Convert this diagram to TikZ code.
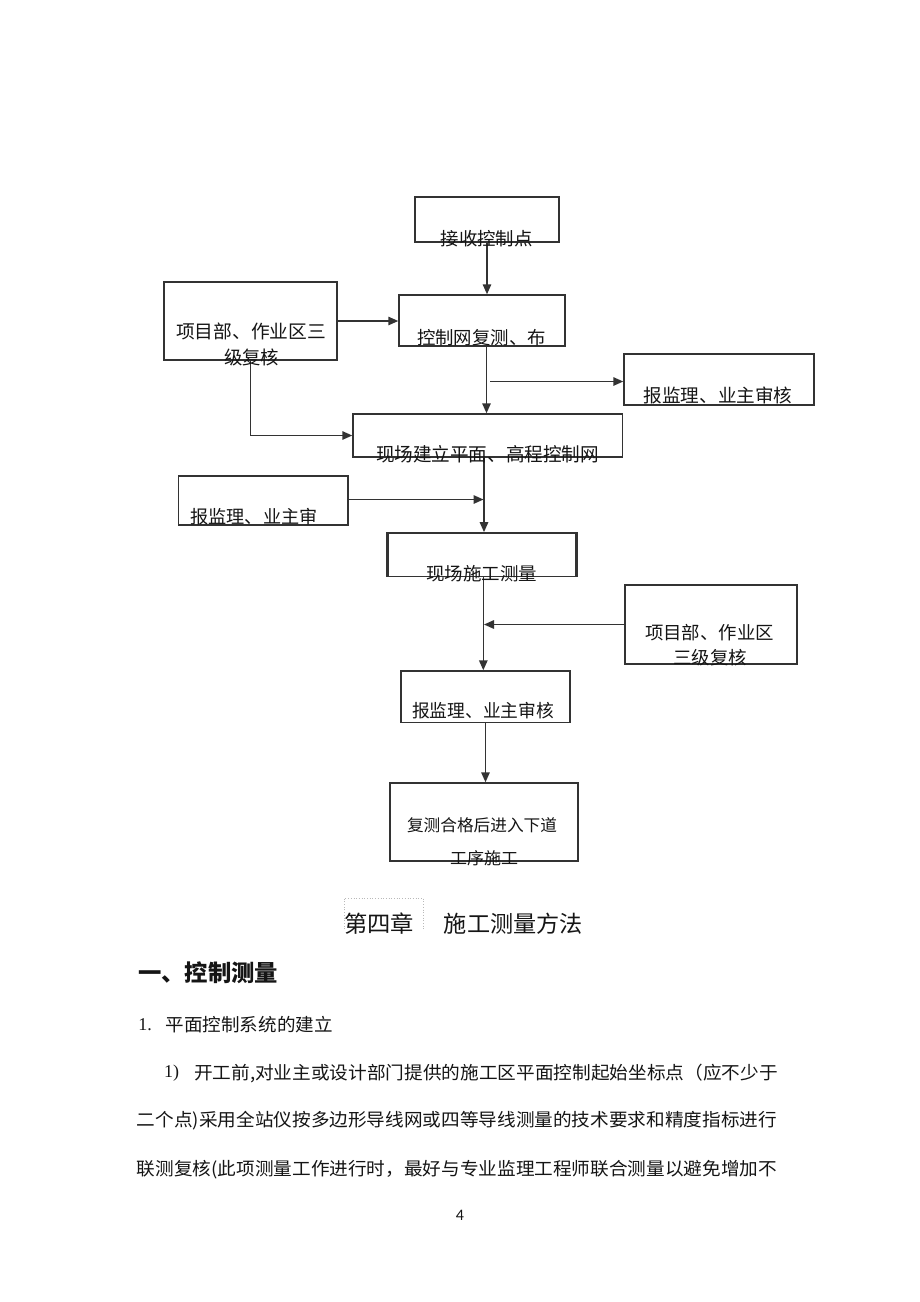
\documentclass[tikz,border=0pt]{standalone}
\usepackage{fontspec}
\setmainfont{Noto Sans CJK SC}
\newfontfamily\serif{Liberation Serif}
\newfontfamily\pnum{Carlito}
\usepackage{graphicx}
\usetikzlibrary{arrows.meta}
\definecolor{boxgray}{HTML}{333333}
\definecolor{linegray}{HTML}{333333}
\definecolor{txtgray}{HTML}{151515}
\newcommand{\fw}[3]{{\fontsize{#1}{#1}\selectfont\resizebox{#2pt}{\height}{#3}}}
\begin{document}
\begin{tikzpicture}[x=1pt,y=-1pt,
  box/.style={draw=boxgray, line width=1.5pt, rectangle, inner sep=0pt},
  txt/.style={inner sep=0pt, text=txtgray},
  arr/.style={draw=linegray, line width=1.5pt, -{Triangle[length=10pt,width=8.5pt]}}]
\path[use as bounding box, fill=white] (0,0) rectangle (920,1302);

% boxes
\node[box, minimum width=144pt, minimum height=45pt] (b1) at (487,219.5) {};
\node[box, minimum width=173pt, minimum height=78pt] (b2) at (250.5,321) {};
\node[box, minimum width=166pt, minimum height=51pt] (b3) at (482,320.5) {};
\node[box, minimum width=190pt, minimum height=51pt] (b4) at (719,379.5) {};
\node[box, minimum width=269.5pt, minimum height=43pt] (b5) at (487.75,435.5) {};
\node[box, minimum width=169.5pt, minimum height=49pt] (b6) at (263.25,500.5) {};
\node[box, line width=1.8pt, minimum width=188pt, minimum height=43.5pt] (b7) at (482,554.75) {};
\draw[boxgray, line width=3pt] (b7.north west) -- (b7.south west) (b7.north east) -- (b7.south east);
\node[box, minimum width=172pt, minimum height=79pt] (b8) at (711,624.5) {};
\node[box, minimum width=169pt, minimum height=51.5pt] (b9) at (485.5,696.75) {};
\node[box, minimum width=188pt, minimum height=78pt] (b10) at (484,822) {};

% connectors
\draw[arr] (b1.south) -- (b1.south |- b3.north);
\draw[arr] (b2.east) -- (b2.east -| b3.west);
\draw[arr] ([xshift=4.5pt]b3.south) -- ([xshift=4.5pt]b3.south |- b5.north);
\coordinate (c1) at (490,381.5);
\draw[arr] (c1) -- (c1 -| b4.west);
\draw[arr] (b2.south) |- (b5.west);
\draw[arr] ([xshift=-3.75pt]b5.south) -- ([xshift=-3.75pt]b5.south |- b7.north);
\coordinate (j1) at (483.5,499.5);
\draw[arr] (b6.east |- j1) -- (j1);
\draw[arr] ([xshift=1.3pt]b7.south) -- ([xshift=1.3pt]b7.south |- b9.north);
\coordinate (j2) at (484,624.5);
\draw[arr] (b8.west) -- (j2);
\draw[arr] (b9.south) -- (b9.south |- b10.north);

% box texts
\node[txt] (t1) at (486.7,238.5) {\fw{18}{92}{接收控制点}};
\node[txt] (t2a) at (251,331) {\fw{18.5}{150}{项目部、作业区三}};
\node[txt] (t2b) at (251.7,357) {\fw{18.5}{55}{级复核}};
\node[txt] (t3) at (481.5,338) {\fw{18}{129}{控制网复测、布}};
\node[txt] (t4) at (718,395) {\fw{18.4}{149}{报监理、业主审核}};
\node[txt] (t5) at (487.5,454.7) {\fw{19}{223}{现场建立平面、高程控制网}};
\node[txt] (t6) at (254,516.5) {\fw{18}{127}{报监理、业主审}};
\node[txt] (t7) at (481.5,574) {\fw{18}{111}{现场施工测量}};
\node[txt] (t8a) at (709.5,632.5) {\fw{18}{129}{项目部、作业区}};
\node[txt] (t8b) at (710,658) {\fw{18}{74}{三级复核}};
\node[txt] (t9) at (483,710.5) {\fw{18}{142}{报监理、业主审核}};
\node[txt] (t10a) at (482,825) {\fw{16.5}{150}{复测合格后进入下道}};
\node[txt] (t10b) at (484,858) {\fw{16.5}{68}{工序施工}};

% chapter title
\draw[gray!55, line width=0.7pt, dotted] (344,929) -- (344,898) -- (423,898) -- (423,929);
\node[txt] (ch1) at (379,924) {\fw{23}{70}{第四章}};
\node[txt] (ch2) at (513.4,924) {\fw{23}{139}{施工测量方法}};

% heading
\node[txt] (h1) at (208,973) {\fw{23}{140}{\bfseries 一、控制测量}};

% body text
\node[txt] (n1) at (145,1025) {{\serif\fontsize{18}{18}\selectfont 1.}};
\node[txt] (s1) at (249.2,1025) {\fw{18}{167}{平面控制系统的建立}};
\node[txt] (n2) at (171.7,1073) {{\serif\fontsize{18}{18}\selectfont 1)}};
\node[txt] (l1) at (486,1073) {\fw{18}{584}{开工前,对业主或设计部门提供的施工区平面控制起始坐标点（应不少于}};
\node[txt] (l2) at (457,1121) {\fw{18}{640}{二个点)采用全站仪按多边形导线网或四等导线测量的技术要求和精度指标进行}};
\node[txt] (l3) at (457,1169.5) {\fw{18}{640}{联测复核(此项测量工作进行时，最好与专业监理工程师联合测量以避免增加不}};
\node[txt] (pg) at (460,1215) {{\pnum\fontsize{16}{16}\selectfont 4}};
\end{tikzpicture}
\end{document}
